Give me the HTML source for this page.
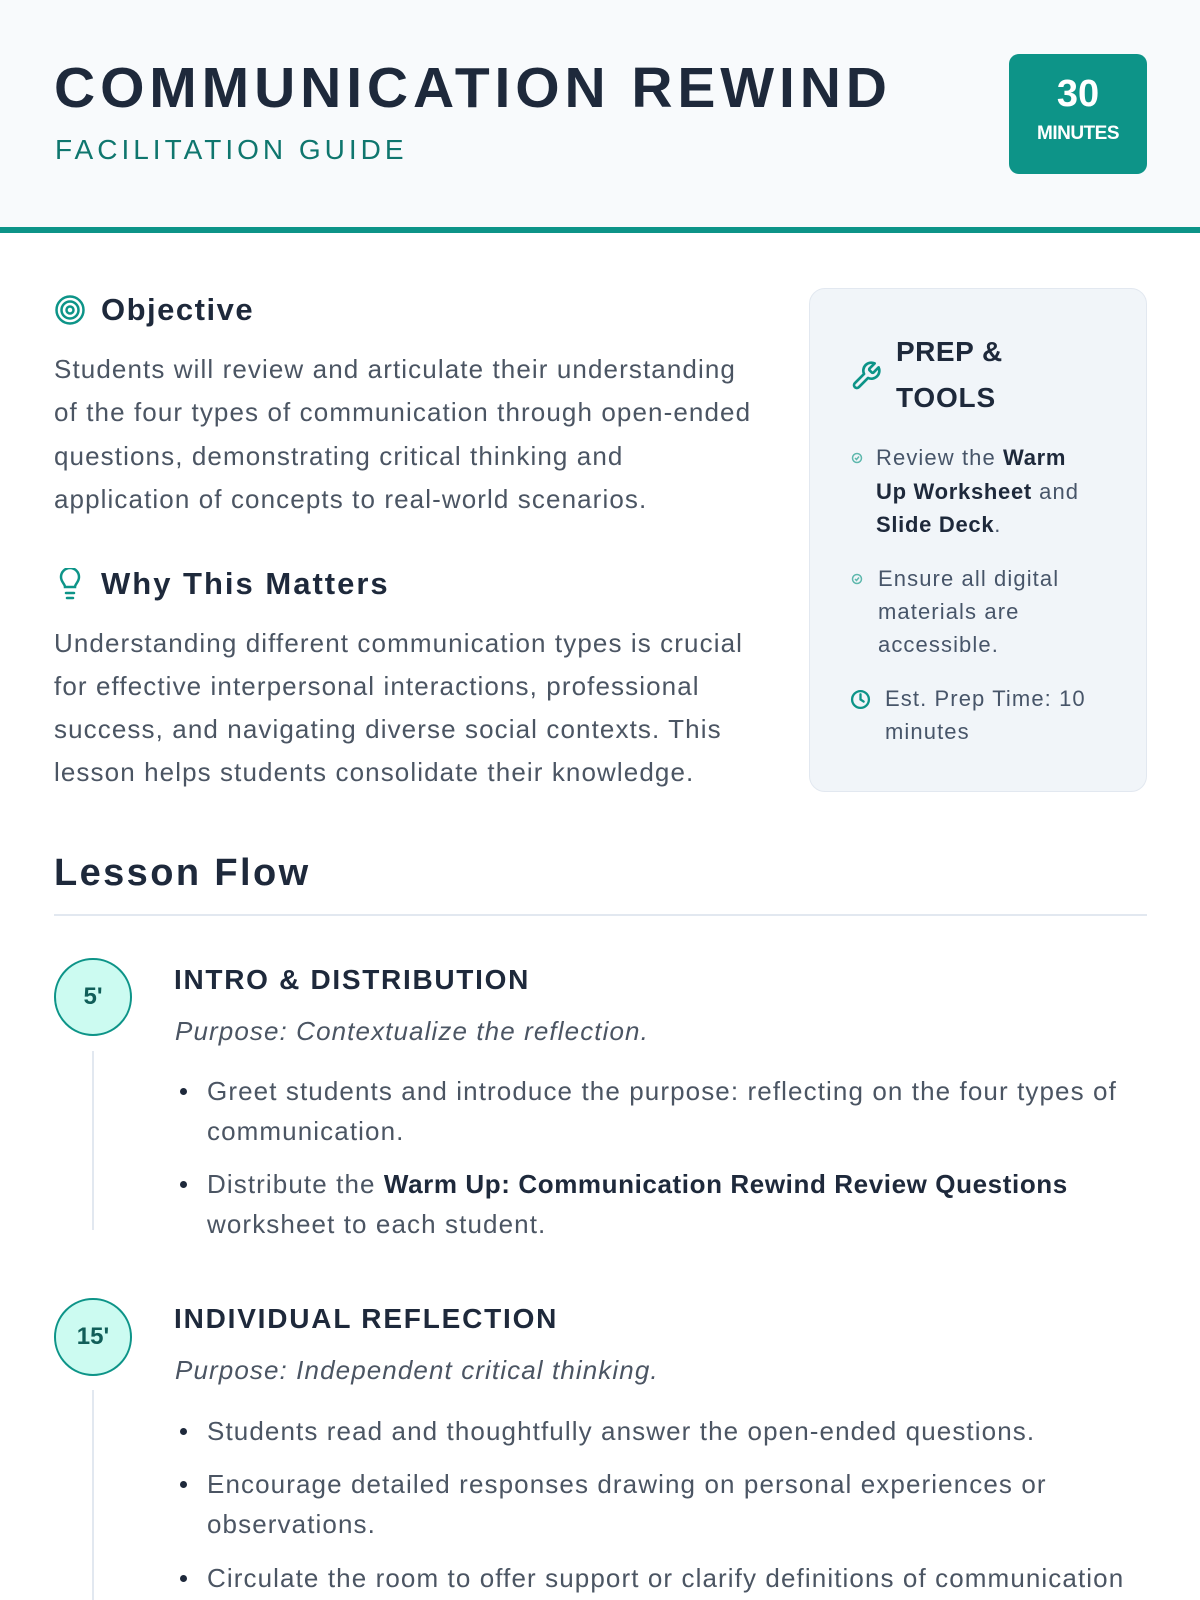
<!DOCTYPE html>
<html><head><meta charset="utf-8"><style>
*{margin:0;padding:0;box-sizing:border-box}
body{width:1200px;height:1600px;position:relative;overflow:hidden;background:#fff;font-family:"Liberation Sans",sans-serif;color:#1e293b}
.l{position:absolute;white-space:nowrap;line-height:40px;height:40px}
.p{font-size:26px;letter-spacing:1.1px;color:#4b5563}
.h{font-weight:bold;color:#1e293b}
.c{font-size:22px;letter-spacing:1.1px;color:#475569}
.c b{color:#1e293b;letter-spacing:0.7px}
.b b{color:#1e293b;letter-spacing:0.6px}
.dot{position:absolute;width:7px;height:7px;border-radius:50%;background:#1e293b}
.circ{position:absolute;width:78px;height:78px;border-radius:50%;background:#ccfbf1;border:2.5px solid #0d9488;color:#115e59;font-weight:bold;font-size:24px;display:flex;align-items:center;justify-content:center}
.vl{position:absolute;left:92px;width:2px;background:#e2e8f0}
</style></head><body>
<div style="position:absolute;left:0;top:0;width:1200px;height:228px;background:#f8fafc"></div>
<div style="position:absolute;left:0;top:227px;width:1200px;height:6px;background:#0d9488"></div>
<div class="l h" style="left:54px;top:58px;height:60px;line-height:60px;font-size:57px;font-weight:900;letter-spacing:4.9px;color:#1e293b">COMMUNICATION REWIND</div>
<div class="l" style="left:55px;top:130px;font-size:28px;letter-spacing:4px;color:#0f766e">FACILITATION GUIDE</div>
<div style="position:absolute;left:1009px;top:54px;width:138px;height:120px;background:#0d9488;border-radius:10px;color:#fff;text-align:center">
<div style="font-size:38px;font-weight:bold;margin-top:20px;line-height:40px">30</div>
<div style="font-size:19px;font-weight:bold;margin-top:9px;letter-spacing:-0.5px">MINUTES</div></div>

<svg style="position:absolute;left:54px;top:294px" width="32" height="32" viewBox="0 0 32 32" fill="none" stroke="#0d9488" stroke-width="2.5"><circle cx="16" cy="16" r="13.5"/><circle cx="16" cy="16" r="8.5"/><circle cx="16" cy="16" r="3.5"/></svg>
<div class="l h" style="left:101px;top:290px;font-size:31px;letter-spacing:1.5px">Objective</div>
<div class="l p" style="left:54px;top:349px">Students will review and articulate their understanding</div>
<div class="l p" style="left:54px;top:392px">of the four types of communication through open-ended</div>
<div class="l p" style="left:54px;top:436px">questions, demonstrating critical thinking and</div>
<div class="l p" style="left:54px;top:479px">application of concepts to real-world scenarios.</div>

<svg style="position:absolute;left:58px;top:568px" width="24" height="34" viewBox="0 0 24 34" fill="none" stroke="#0d9488" stroke-width="2.5" stroke-linecap="round"><path d="M7 19c0-3-4-5-4-10a9 9 0 0 1 18 0c0 5-4 7-4 10z"/><path d="M8 25h8M9 30h6"/></svg>
<div class="l h" style="left:101px;top:564px;font-size:31px;letter-spacing:2px">Why This Matters</div>
<div class="l p" style="left:54px;top:623px">Understanding different communication types is crucial</div>
<div class="l p" style="left:54px;top:666px">for effective interpersonal interactions, professional</div>
<div class="l p" style="left:54px;top:709px">success, and navigating diverse social contexts. This</div>
<div class="l p" style="left:54px;top:752px">lesson helps students consolidate their knowledge.</div>

<div style="position:absolute;left:809px;top:288px;width:338px;height:504px;background:#f1f5f9;border:1.5px solid #e2e8f0;border-radius:16px"></div>
<svg style="position:absolute;left:850px;top:360px" width="32" height="32" viewBox="0 0 24 24" fill="none" stroke="#0d9488" stroke-width="2" stroke-linecap="round" stroke-linejoin="round"><path d="M14.7 6.3a1 1 0 0 0 0 1.4l1.6 1.6a1 1 0 0 0 1.4 0l3.77-3.77a6 6 0 0 1-7.94 7.94l-6.91 6.91a2.12 2.12 0 0 1-3-3l6.91-6.91a6 6 0 0 1 7.940-7.94l-3.76 3.76z"/></svg>
<div class="l h" style="left:896px;top:332px;font-size:28px;letter-spacing:0.5px">PREP &amp;</div>
<div class="l h" style="left:896px;top:378px;font-size:28px;letter-spacing:0.8px">TOOLS</div>
<svg style="position:absolute;left:851px;top:452px" width="12" height="12" viewBox="0 0 12 12" fill="none" stroke="#5eb8ad" stroke-width="1.5"><circle cx="6" cy="6" r="4.5"/><path d="M4 6l1.5 1.5L8 4.5"/></svg>
<div class="l c" style="left:876px;top:438px">Review the <b>Warm</b></div>
<div class="l c" style="left:876px;top:472px"><b>Up Worksheet</b> and</div>
<div class="l c" style="left:876px;top:505px"><b>Slide Deck</b>.</div>
<svg style="position:absolute;left:851px;top:573px" width="12" height="12" viewBox="0 0 12 12" fill="none" stroke="#5eb8ad" stroke-width="1.5"><circle cx="6" cy="6" r="4.5"/><path d="M4 6l1.5 1.5L8 4.5"/></svg>
<div class="l c" style="left:878px;top:559px">Ensure all digital</div>
<div class="l c" style="left:878px;top:592px">materials are</div>
<div class="l c" style="left:878px;top:625px">accessible.</div>
<svg style="position:absolute;left:850px;top:689px" width="21" height="21" viewBox="0 0 20 20" fill="none" stroke="#0d9488" stroke-width="2.2" stroke-linecap="round"><circle cx="10" cy="10" r="8"/><path d="M10 5v5l3 2"/></svg>
<div class="l c" style="left:885px;top:679px">Est. Prep Time: 10</div>
<div class="l c" style="left:885px;top:712px">minutes</div>

<div class="l h" style="left:54px;top:850px;height:46px;line-height:46px;font-size:38px;letter-spacing:2.4px">Lesson Flow</div>
<div style="position:absolute;left:54px;top:914px;width:1093px;height:2px;background:#e2e8f0"></div>

<div class="circ" style="left:54px;top:958px">5'</div>
<div class="vl" style="top:1051px;height:179px"></div>
<div class="l h" style="left:174px;top:960px;font-size:28px;letter-spacing:1.7px">INTRO &amp; DISTRIBUTION</div>
<div class="l p" style="left:175px;top:1011px;font-style:italic">Purpose: Contextualize the reflection.</div>
<div class="dot" style="left:180px;top:1088px"></div>
<div class="l p b" style="left:207px;top:1071px">Greet students and introduce the purpose: reflecting on the four types of</div>
<div class="l p b" style="left:207px;top:1111px">communication.</div>
<div class="dot" style="left:180px;top:1181px"></div>
<div class="l p b" style="left:207px;top:1164px">Distribute the <b>Warm Up: Communication Rewind Review Questions</b></div>
<div class="l p b" style="left:207px;top:1204px">worksheet to each student.</div>

<div class="circ" style="left:54px;top:1298px">15'</div>
<div class="vl" style="top:1390px;height:210px"></div>
<div class="l h" style="left:174px;top:1299px;font-size:28px;letter-spacing:1.8px">INDIVIDUAL REFLECTION</div>
<div class="l p" style="left:175px;top:1350px;font-style:italic">Purpose: Independent critical thinking.</div>
<div class="dot" style="left:180px;top:1428px"></div>
<div class="l p" style="left:207px;top:1411px">Students read and thoughtfully answer the open-ended questions.</div>
<div class="dot" style="left:180px;top:1481px"></div>
<div class="l p" style="left:207px;top:1464px">Encourage detailed responses drawing on personal experiences or</div>
<div class="l p" style="left:207px;top:1504px">observations.</div>
<div class="dot" style="left:180px;top:1575px"></div>
<div class="l p" style="left:207px;top:1558px">Circulate the room to offer support or clarify definitions of communication</div>
</body></html>
